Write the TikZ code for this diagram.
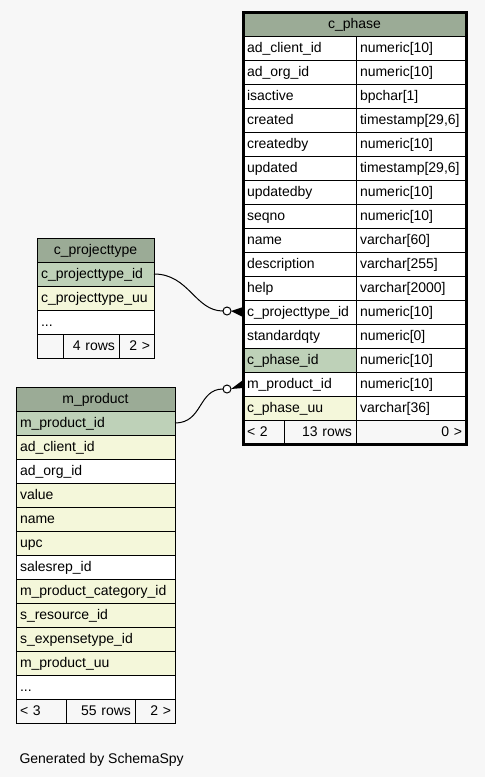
\documentclass[tikz,border=0pt]{standalone}
\usepackage{fontspec}
\setmainfont{Liberation Sans}
\usetikzlibrary{positioning}

\definecolor{bgcol}{HTML}{F7F7F7}
\definecolor{headcol}{HTML}{9BAB96}
\definecolor{keycol}{HTML}{BED1B8}
\definecolor{idxcol}{HTML}{F4F7DA}

\tikzset{
    cell/.style={draw=black, line width=1pt, fill=white, minimum height=24pt,
        inner xsep=4pt, inner ysep=0pt, outer sep=0pt, text height=11pt, text depth=2pt,
        text width=#1, align=left},
    head/.style={cell=#1, fill=headcol, align=center},
    key/.style={fill=keycol},
    idx/.style={fill=idxcol},
    foot/.style={cell=#1, fill=bgcol},
    rfoot/.style={foot=#1, align=right},
    odot/.style={circle, draw=black, line width=1pt, fill=white, inner sep=0pt, outer sep=0pt, minimum size=8pt},
    rel/.style={draw=black, line width=1pt}
}

\begin{document}
\begin{tikzpicture}[x=1pt, y=-1pt, font=\fontsize{14}{16}\selectfont]
    \fill[bgcol] (0,0) rectangle (485,777);
    \useasboundingbox (0,0) rectangle (485,777);

    % c_phase
    \node[head=215pt, anchor=north west] (phhead) at (243,12) {c\_phase};
    \node[cell=105pt, anchor=north west] (ph1) at (phhead.south west) {ad\_client\_id};
    \node[cell=102pt, right=0pt of ph1] (ph1t) {numeric[10]};
    \node[cell=105pt, below=0pt of ph1] (ph2) {ad\_org\_id};
    \node[cell=102pt, right=0pt of ph2] (ph2t) {numeric[10]};
    \node[cell=105pt, below=0pt of ph2] (ph3) {isactive};
    \node[cell=102pt, right=0pt of ph3] (ph3t) {bpchar[1]};
    \node[cell=105pt, below=0pt of ph3] (ph4) {created};
    \node[cell=102pt, right=0pt of ph4] (ph4t) {timestamp[29,6]};
    \node[cell=105pt, below=0pt of ph4] (ph5) {createdby};
    \node[cell=102pt, right=0pt of ph5] (ph5t) {numeric[10]};
    \node[cell=105pt, below=0pt of ph5] (ph6) {updated};
    \node[cell=102pt, right=0pt of ph6] (ph6t) {timestamp[29,6]};
    \node[cell=105pt, below=0pt of ph6] (ph7) {updatedby};
    \node[cell=102pt, right=0pt of ph7] (ph7t) {numeric[10]};
    \node[cell=105pt, below=0pt of ph7] (ph8) {seqno};
    \node[cell=102pt, right=0pt of ph8] (ph8t) {numeric[10]};
    \node[cell=105pt, below=0pt of ph8] (ph9) {name};
    \node[cell=102pt, right=0pt of ph9] (ph9t) {varchar[60]};
    \node[cell=105pt, below=0pt of ph9] (ph10) {description};
    \node[cell=102pt, right=0pt of ph10] (ph10t) {varchar[255]};
    \node[cell=105pt, below=0pt of ph10] (ph11) {help};
    \node[cell=102pt, right=0pt of ph11] (ph11t) {varchar[2000]};
    \node[cell=105pt, below=0pt of ph11] (ph12) {c\_projecttype\_id};
    \node[cell=102pt, right=0pt of ph12] (ph12t) {numeric[10]};
    \node[cell=105pt, below=0pt of ph12] (ph13) {standardqty};
    \node[cell=102pt, right=0pt of ph13] (ph13t) {numeric[0]};
    \node[cell=105pt, key, below=0pt of ph13] (ph14) {c\_phase\_id};
    \node[cell=102pt, right=0pt of ph14] (ph14t) {numeric[10]};
    \node[cell=105pt, below=0pt of ph14] (ph15) {m\_product\_id};
    \node[cell=102pt, right=0pt of ph15] (ph15t) {numeric[10]};
    \node[cell=105pt, idx, below=0pt of ph15] (ph16) {c\_phase\_uu};
    \node[cell=102pt, right=0pt of ph16] (ph16t) {varchar[36]};
    \node[foot=33pt, anchor=north west] (phf1) at (ph16.south west) {< 2};
    \node[rfoot=64pt, right=0pt of phf1] (phf2) {13 rows};
    \node[rfoot=102pt, right=0pt of phf2] (phf3) {0 >};
    \draw[line width=3pt] (phhead.north west) rectangle (phf3.south east);

    % c_projecttype
    \node[head=109pt, anchor=north west] (pthead) at (37,238) {c\_projecttype};
    \node[cell=109pt, key, below=0pt of pthead] (pt1) {c\_projecttype\_id};
    \node[cell=109pt, idx, below=0pt of pt1] (pt2) {c\_projecttype\_uu};
    \node[cell=109pt, below=0pt of pt2] (pt3) {...};
    \node[foot=18pt, anchor=north west] (ptf1) at (pt3.south west) {};
    \node[rfoot=48pt, right=0pt of ptf1] (ptf2) {4 rows};
    \node[rfoot=27pt, right=0pt of ptf2] (ptf3) {2 >};

    % m_product
    \node[head=151pt, anchor=north west] (mphead) at (16,387) {m\_product};
    \node[cell=151pt, key, below=0pt of mphead] (mp1) {m\_product\_id};
    \node[cell=151pt, idx, below=0pt of mp1] (mp2) {ad\_client\_id};
    \node[cell=151pt, below=0pt of mp2] (mp3) {ad\_org\_id};
    \node[cell=151pt, idx, below=0pt of mp3] (mp4) {value};
    \node[cell=151pt, idx, below=0pt of mp4] (mp5) {name};
    \node[cell=151pt, idx, below=0pt of mp5] (mp6) {upc};
    \node[cell=151pt, below=0pt of mp6] (mp7) {salesrep\_id};
    \node[cell=151pt, idx, below=0pt of mp7] (mp8) {m\_product\_category\_id};
    \node[cell=151pt, idx, below=0pt of mp8] (mp9) {s\_resource\_id};
    \node[cell=151pt, idx, below=0pt of mp9] (mp10) {s\_expensetype\_id};
    \node[cell=151pt, idx, below=0pt of mp10] (mp11) {m\_product\_uu};
    \node[cell=151pt, below=0pt of mp11] (mp12) {...};
    \node[foot=42pt, anchor=north west] (mpf1) at (mp12.south west) {< 3};
    \node[rfoot=61pt, right=0pt of mpf1] (mpf2) {55 rows};
    \node[rfoot=32pt, right=0pt of mpf2] (mpf3) {2 >};

    % relations
    \node[odot] (o1) at (227,311) {};
    \node[odot] (o2) at (227,389) {};
    \draw[rel] (pt1.east) .. controls +(35,0) and +(-28,0) .. (o1.west);
    \draw[rel] (mp1.east) .. controls +(28,0) and +(-25,0) .. (o2.west);
    \fill (o1.east) -- ([yshift=5pt]ph12.west) -- ([yshift=-5pt]ph12.west) -- cycle;
    \fill (o2.east) -- ([yshift=4pt]ph15.west) -- ([yshift=-4pt]ph15.west) -- cycle;

    \node[anchor=base west] (gen) at (16,763) {Generated by SchemaSpy};
\end{tikzpicture}
\end{document}
